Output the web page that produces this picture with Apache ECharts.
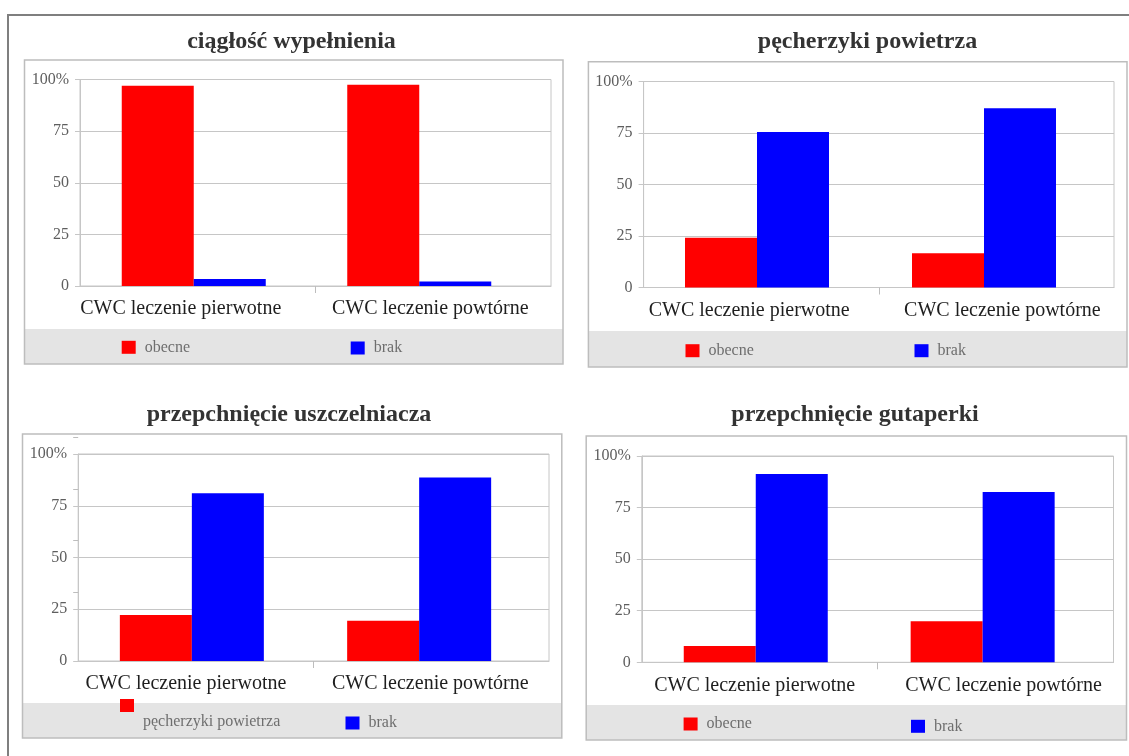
<!DOCTYPE html>
<html>
<head>
<meta charset="utf-8">
<script src="https://cdn.jsdelivr.net/npm/echarts@6/dist/echarts.min.js"></script>
<style>
  html, body { margin: 0; padding: 0; background: #ffffff; }
  #chart { width: 1129px; height: 756px; }
</style>
</head>
<body>
<div id="chart"></div>
<script>
// Categories shared by all four panels
const categories = ['CWC leczenie pierwotne', 'CWC leczenie powtórne'];

// Panel titles
const panelTitles = [
  'ciągłość wypełnienia',
  'pęcherzyki powietrza',
  'przepchnięcie uszczelniacza',
  'przepchnięcie gutaperki'
];

// Series names (legend texts) per panel
const redNames = ['obecne', 'obecne', 'pęcherzyki powietrza', 'obecne'];
const blueNames = ['brak', 'brak', 'brak', 'brak'];

// Values in percent
const ciagloscObecne = [97.0, 97.5];
const ciagloscBrak = [3.4, 2.2];
const pecherzykiObecne = [24.2, 16.6];
const pecherzykiBrak = [75.5, 87.0];
const uszczelniaczObecne = [22.2, 19.5];
const uszczelniaczBrak = [81.0, 88.7];
const gutaperkaObecne = [7.9, 19.9];
const gutaperkaBrak = [91.3, 82.5];

// Value-axis ticks
const yMin = 0;
const yMax = 100;
const yStep = 25;
const yTopLabel = '100%';

const redValues = [ciagloscObecne, pecherzykiObecne, uszczelniaczObecne, gutaperkaObecne];
const blueValues = [ciagloscBrak, pecherzykiBrak, uszczelniaczBrak, gutaperkaBrak];

// Panel geometry (pixels)
const layouts = [
  { box: [24.5, 60, 563, 364], band: 329, plot: [80, 79.5, 551, 286], bars: [81, 451],
    title: [291.5, 30], shift: [-17, -3],
    legend: [[121.7, 339.3, 0], [350.7, 340, 0]] },
  { box: [588.4, 61.7, 1127, 367], band: 331, plot: [643.6, 81.5, 1114, 287.5], bars: [643.5, 454],
    title: [867.5, 30], shift: [-12, 6],
    legend: [[685.5, 342.7, 0], [914.5, 342.7, 0]] },
  { box: [22.5, 434, 561.8, 738], band: 703, plot: [78.2, 454, 549, 661], bars: [78.2, 454.6],
    title: [289, 403], shift: [-10, -1],
    legend: [[120, 699, 33], [345.5, 715, 0]] },
  { box: [586.2, 436, 1126.5, 740], band: 705, plot: [641.8, 456, 1113.5, 662.3], bars: [642.3, 453.8],
    title: [855, 403], shift: [-5, 8],
    legend: [[683.6, 716, 0], [911, 718.3, 0]] }
];

const FONT = 'Liberation Serif';
const GRID_COLOR = '#c6c6c6';
const RED = '#ff0000';
const BLUE = '#0000ff';

const option = {
  animation: false,
  backgroundColor: '#ffffff',
  title: [],
  grid: [],
  xAxis: [],
  yAxis: [],
  series: [],
  legend: [],
  graphic: []
};

// Page frame lines
option.graphic.push(
  { type: 'line', z: -5, shape: { x1: 7, y1: 15, x2: 1129, y2: 15 }, style: { stroke: '#7f7f7f', lineWidth: 2 } },
  { type: 'line', z: -5, shape: { x1: 8, y1: 14, x2: 8, y2: 756 }, style: { stroke: '#7f7f7f', lineWidth: 2 } }
);

layouts.forEach(function (L, p) {
  const [bx1, by1, bx2, by2] = L.box;
  const [px1, py1, px2, py2] = L.plot;

  // panel box, legend band, outline
  option.graphic.push(
    { type: 'rect', z: -4, shape: { x: bx1, y: by1, width: bx2 - bx1, height: by2 - by1 }, style: { fill: '#ffffff' } },
    { type: 'rect', z: -3, shape: { x: bx1, y: L.band, width: bx2 - bx1, height: by2 - L.band }, style: { fill: '#e4e4e4' } },
    { type: 'rect', z: -2, shape: { x: bx1, y: by1, width: bx2 - bx1, height: by2 - by1 }, style: { fill: null, stroke: '#bdbdbd', lineWidth: 1.5 } }
  );

  option.title.push({
    text: panelTitles[p],
    left: L.title[0],
    top: L.title[1],
    textAlign: 'center',
    padding: 0,
    textStyle: { fontFamily: FONT, fontSize: 24, fontWeight: 'bold', color: '#333333' }
  });

  // Frame grid: border, gridlines, value labels, category labels
  const frameGrid = option.grid.length;
  option.grid.push({
    left: px1, top: py1, width: px2 - px1, height: py2 - py1,
    show: true, borderColor: GRID_COLOR, borderWidth: 1, backgroundColor: 'transparent',
    containLabel: false
  });

  const rich = {};
  L.shift.forEach(function (s, i) {
    rich['c' + i] = {
      fontFamily: FONT, fontSize: 20, color: '#1e1e1e',
      padding: s < 0 ? [0, -2 * s, 0, 0] : [0, 0, 0, 2 * s]
    };
  });

  option.xAxis.push({
    gridIndex: frameGrid,
    type: 'category',
    data: categories,
    boundaryGap: true,
    axisLine: { show: true, lineStyle: { color: GRID_COLOR } },
    axisTick: { show: false },
    splitLine: { show: false },
    axisLabel: {
      margin: 13,
      interval: 0,
      formatter: function (v, i) { return '{c' + i + '|' + v + '}'; },
      rich: rich
    }
  });
  // centre tick between the two categories
  option.xAxis.push({
    gridIndex: frameGrid,
    type: 'category',
    data: ['a', 'b', 'c'],
    boundaryGap: false,
    position: 'bottom',
    axisLine: { show: false },
    axisLabel: { show: false },
    splitLine: { show: false },
    axisTick: {
      show: true, length: 7,
      interval: function (i) { return i === 1; },
      lineStyle: { color: '#bdbdbd' }
    }
  });
  option.yAxis.push({
    gridIndex: frameGrid,
    type: 'value',
    min: yMin, max: yMax, interval: yStep,
    axisLine: { show: true, lineStyle: { color: GRID_COLOR } },
    axisTick: { show: true, length: 5, lineStyle: { color: GRID_COLOR } },
    splitLine: { show: true, lineStyle: { color: GRID_COLOR, width: 1 } },
    axisLabel: {
      margin: 11,
      fontFamily: FONT, fontSize: 16, color: '#5e5e5e',
      padding: [0, 0, 6, 0],
      formatter: function (v) { return v === yMax ? yTopLabel : String(v); }
    }
  });

  // Bar grid
  const barGrid = option.grid.length;
  option.grid.push({
    left: L.bars[0], top: py1, width: L.bars[1], height: py2 - py1, show: false
  });
  const barX = option.xAxis.length;
  option.xAxis.push({ gridIndex: barGrid, type: 'category', data: categories, show: false });
  const barY = option.yAxis.length;
  option.yAxis.push({ gridIndex: barGrid, type: 'value', min: yMin, max: yMax, interval: yStep, show: false });

  option.series.push(
    { type: 'bar', name: redNames[p], xAxisIndex: barX, yAxisIndex: barY,
      data: redValues[p], barWidth: 72, barGap: '0%', itemStyle: { color: RED } },
    { type: 'bar', name: blueNames[p], xAxisIndex: barX, yAxisIndex: barY,
      data: blueValues[p], barWidth: 72, barGap: '0%', itemStyle: { color: BLUE } }
  );

  [redNames[p], blueNames[p]].forEach(function (name, k) {
    const lg = L.legend[k];
    option.legend.push({
      left: lg[0], top: lg[1],
      data: [name],
      icon: 'rect',
      itemWidth: 14, itemHeight: 13,
      padding: 0,
      selectedMode: false,
      formatter: '{t|{name}}',
      textStyle: {
        fontFamily: FONT, fontSize: 16, color: '#6e6e6e',
        rich: {
          t: { fontFamily: FONT, fontSize: 16, color: '#6e6e6e', padding: [lg[2], 0, 0, 4] }
        }
      }
    });
  });
});

// Stray tick marks on the left edge of the third panel
(function () {
  const L = layouts[2];
  const g = option.grid.length;
  option.grid.push({ left: L.plot[0], top: 437, width: 1, height: (L.plot[3] - L.plot[1]) * 0.75, show: false });
  option.xAxis.push({ gridIndex: g, type: 'category', data: categories, show: false });
  option.yAxis.push({
    gridIndex: g, type: 'value', min: 25, max: yMax, interval: yStep,
    axisLine: { show: false }, axisLabel: { show: false }, splitLine: { show: false },
    axisTick: { show: true, length: 5, lineStyle: { color: '#bdbdbd' } }
  });
})();

const chart = echarts.init(document.getElementById('chart'), null, { renderer: 'canvas' });
chart.setOption(option);
</script>
</body>
</html>
